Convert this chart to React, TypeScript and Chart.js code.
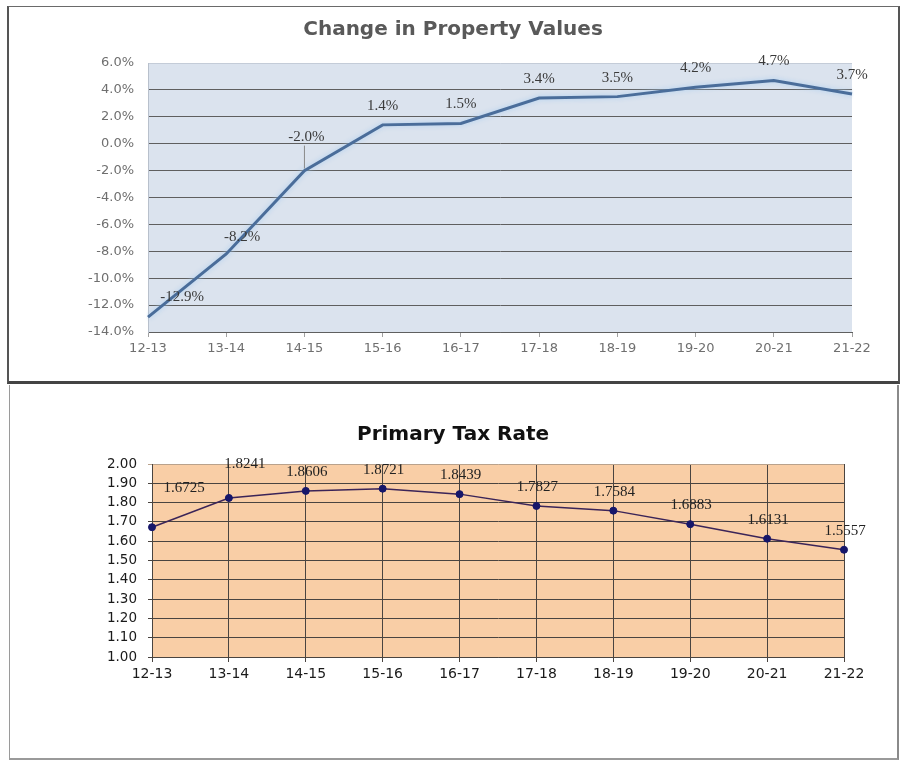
import React, { useEffect, useRef } from "react";
import { Chart, registerables } from "chart.js";

Chart.register(...registerables);

const categories = ["12-13", "13-14", "14-15", "15-16", "16-17", "17-18", "18-19", "19-20", "20-21", "21-22"];
const propertyChange = [-12.9, -8.2, -2.0, 1.4, 1.5, 3.4, 3.5, 4.2, 4.7, 3.7];
const taxRate = [1.6725, 1.8241, 1.8606, 1.8721, 1.8439, 1.7827, 1.7584, 1.6883, 1.6131, 1.5557];

const title1 = "Change in Property Values";
const title2 = "Primary Tax Rate";

const bgPlugin = {
  id: "plotBg",
  beforeDraw(chart: any, _args: any, opts: any) {
    const { ctx, chartArea } = chart;
    if (!opts || !opts.color) return;
    ctx.save();
    ctx.fillStyle = opts.color;
    ctx.fillRect(chartArea.left, chartArea.top, chartArea.right - chartArea.left, chartArea.bottom - chartArea.top);
    ctx.restore();
  },
};

const glowPlugin = {
  id: "lineGlow",
  beforeDatasetsDraw(chart: any, _args: any, opts: any) {
    if (!opts || !opts.color) return;
    const ctx = chart.ctx;
    ctx.save();
    ctx.shadowColor = opts.color;
    ctx.shadowBlur = opts.blur;
    ctx.shadowOffsetX = 0;
    ctx.shadowOffsetY = 0;
  },
  afterDatasetsDraw(chart: any, _args: any, opts: any) {
    if (!opts || !opts.color) return;
    chart.ctx.restore();
  },
};

const labelPlugin = {
  id: "valueLabels",
  afterDatasetsDraw(chart: any, _args: any, opts: any) {
    if (!opts || !opts.format) return;
    const ctx = chart.ctx;
    const meta = chart.getDatasetMeta(0);
    const data = chart.data.datasets[0].data;
    ctx.save();
    ctx.font = opts.font;
    ctx.fillStyle = opts.color;
    ctx.textAlign = "center";
    ctx.textBaseline = "middle";
    meta.data.forEach((pt: any, i: number) => {
      const off = (opts.offsets && opts.offsets[i]) || opts.defaultOffset;
      const x = pt.x + off[0];
      const y = pt.y + off[1];
      if (opts.leaders && opts.leaders[i]) {
        ctx.strokeStyle = "#8a8a8a";
        ctx.lineWidth = 1;
        ctx.beginPath();
        ctx.moveTo(pt.x, y + 9);
        ctx.lineTo(pt.x, pt.y - 2);
        ctx.stroke();
      }
      ctx.fillText(opts.format(data[i]), x, y);
    });
    ctx.restore();
  },
};

function PropertyChart() {
  const ref = useRef<HTMLCanvasElement>(null);
  useEffect(() => {
    const chart = new Chart(ref.current as HTMLCanvasElement, {
      type: "line",
      data: {
        labels: categories,
        datasets: [
          {
            data: propertyChange,
            borderColor: "#4a6d9a",
            borderWidth: 3,
            pointRadius: 0,
            tension: 0,
            fill: false,
          },
        ],
      },
      plugins: [bgPlugin, glowPlugin, labelPlugin],
      options: {
        animation: false,
        responsive: false,
        maintainAspectRatio: false,
        layout: { padding: { top: 0, left: 44, right: 44, bottom: 19 } },
        plugins: {
          legend: { display: false },
          tooltip: { enabled: false },
          title: {
            display: true,
            text: title1,
            color: "#595959",
            font: { family: "'DejaVu Sans', Verdana, sans-serif", size: 20, weight: "bold", lineHeight: 1.2 },
            padding: { top: 10, bottom: 21 },
          },
          plotBg: { color: "#dbe3ee" },
          lineGlow: { color: "rgba(170,205,240,0.95)", blur: 5 },
          valueLabels: {
            format: (v: number) => v.toFixed(1) + "%",
            font: "15px 'Liberation Serif', 'Times New Roman', serif",
            color: "#3a3a3a",
            defaultOffset: [0, -19],
            offsets: [[34, -20], [16, -17], [2, -34]],
            leaders: [false, false, true],
          },
        } as any,
        scales: {
          x: {
            type: "category",
            offset: false,
            grid: { drawOnChartArea: false, drawTicks: true, tickLength: 5, color: "#a0a0a0" },
            border: { display: true, color: "#5f5f5f" },
            ticks: {
              color: "#6f6f6f",
              font: { family: "'DejaVu Sans', Verdana, sans-serif", size: 13 },
              padding: 4,
              maxRotation: 0,
              autoSkip: false,
            },
            afterFit: (axis: any) => {
              axis.height = 30;
            },
          },
          y: {
            min: -14,
            max: 6,
            ticks: {
              stepSize: 2,
              color: "#6f6f6f",
              font: { family: "'DejaVu Sans', Verdana, sans-serif", size: 13 },
              padding: 14,
              callback: (v: any) => Number(v).toFixed(1) + "%",
            },
            grid: {
              drawTicks: false,
              color: (c: any) => (c.tick && c.tick.value === 6 ? "#c4ccd8" : "#5f5f5f"),
              lineWidth: 1,
            },
            border: { display: true, color: "#b8c0cc" },
            afterFit: (axis: any) => {
              axis.width = 94;
            },
          },
        },
      } as any,
    });
    return () => chart.destroy();
  }, []);
  return <canvas ref={ref} width={886} height={373} style={{ position: "absolute", left: 10, top: 8, width: 886, height: 373 }} />;
}

function TaxChart() {
  const ref = useRef<HTMLCanvasElement>(null);
  useEffect(() => {
    const chart = new Chart(ref.current as HTMLCanvasElement, {
      type: "line",
      data: {
        labels: categories,
        datasets: [
          {
            data: taxRate,
            borderColor: "#3b2458",
            borderWidth: 1.5,
            pointRadius: 3.5,
            pointStyle: "circle",
            pointBackgroundColor: "#16166a",
            pointBorderColor: "#16166a",
            pointBorderWidth: 1,
            tension: 0,
            fill: false,
          },
        ],
      },
      plugins: [bgPlugin, labelPlugin],
      options: {
        animation: false,
        responsive: false,
        maintainAspectRatio: false,
        layout: { padding: { top: 0, left: 52, right: 52, bottom: 71 } },
        plugins: {
          legend: { display: false },
          tooltip: { enabled: false },
          title: {
            display: true,
            text: title2,
            color: "#111111",
            font: { family: "'DejaVu Sans', Verdana, sans-serif", size: 20, weight: "bold", lineHeight: 1.2 },
            padding: { top: 36, bottom: 17 },
          },
          plotBg: { color: "#f9cea6" },
          valueLabels: {
            format: (v: number) => v.toFixed(4),
            font: "15px 'Liberation Serif', 'Times New Roman', serif",
            color: "#222222",
            defaultOffset: [1, -19],
            offsets: [[32, -39], [16, -34]],
          },
        } as any,
        scales: {
          x: {
            type: "category",
            offset: false,
            grid: { drawOnChartArea: true, drawTicks: true, tickLength: 5, color: "#4a4440", lineWidth: 1 },
            border: { display: true, color: "#4a4440" },
            ticks: {
              color: "#1a1a1a",
              font: { family: "'DejaVu Sans', Verdana, sans-serif", size: 14 },
              padding: 4,
              maxRotation: 0,
              autoSkip: false,
            },
            afterFit: (axis: any) => {
              axis.height = 30;
            },
          },
          y: {
            min: 1,
            max: 2,
            ticks: {
              stepSize: 0.1,
              color: "#1a1a1a",
              font: { family: "'DejaVu Sans', Verdana, sans-serif", size: 13.5 },
              padding: 11,
              callback: (v: any) => Number(v).toFixed(2),
            },
            grid: {
              drawTicks: true,
              tickLength: 4,
              color: (c: any) => (c.tick && Math.abs(c.tick.value - 2) < 1e-6 ? "#b9a28c" : "#4a4440"),
              lineWidth: 1,
            },
            border: { display: true, color: "#4a4440" },
            afterFit: (axis: any) => {
              axis.width = 90;
            },
          },
        },
      } as any,
    });
    return () => chart.destroy();
  }, []);
  return <canvas ref={ref} width={886} height={371} style={{ position: "absolute", left: 10, top: 387, width: 886, height: 371 }} />;
}

export default function App() {
  return (
    <div style={{ position: "absolute", left: 0, top: 0, width: 904, height: 765, background: "#ffffff" }}>
      <div
        style={{
          position: "absolute",
          left: 7,
          top: 6,
          width: 889,
          height: 374,
          borderTop: "1px solid #6a6a6a",
          borderLeft: "2px solid #555555",
          borderRight: "2px solid #555555",
          borderBottom: "3px solid #444444",
          boxSizing: "content-box",
        }}
      />
      <div
        style={{
          position: "absolute",
          left: 9,
          top: 385,
          width: 887,
          height: 373,
          borderLeft: "1px solid #9a9a9a",
          borderRight: "2px solid #8a8a8a",
          borderBottom: "2px solid #9a9a9a",
          boxSizing: "content-box",
        }}
      />
      <PropertyChart />
      <TaxChart />
    </div>
  );
}
